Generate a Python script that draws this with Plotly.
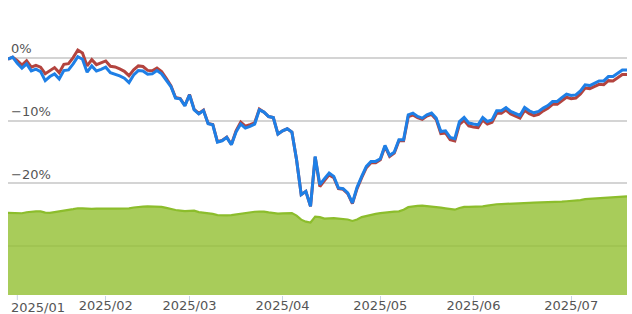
import plotly.graph_objects as go

# trading-day index (Dec 30 2024 .. mid Jul 2025)
blue = [-0.22, 0.10, -0.86, -1.66, -0.97, -2.09, -1.81, -2.20, -3.63, -2.99,
        -2.56, -3.36, -2.04, -1.93, -0.97, 0.19, -0.22, -2.29, -1.29, -2.09,
        -1.85, -1.50, -2.36, -2.56, -2.88, -3.25, -3.95, -2.72, -2.04, -2.09,
        -2.61, -2.56, -2.04, -2.56, -3.52, -4.58, -6.43, -6.54, -7.66, -5.91,
        -8.29, -8.93, -8.41, -10.52, -10.68, -13.44, -13.23, -12.70, -13.87, -11.84,
        -10.57, -11.21, -10.95, -10.57, -8.29, -8.66, -9.36, -9.52, -12.16, -11.64,
        -11.32, -11.84, -16.25, -21.83, -21.30, -23.69, -15.73, -20.23, -19.28, -18.37,
        -18.91, -20.76, -20.87, -21.56, -23.15, -20.66, -18.91, -17.32, -16.52, -16.52,
        -16.10, -13.98, -15.57, -15.03, -13.07, -13.07, -9.09, -8.82, -9.36, -9.62,
        -9.09, -8.82, -9.62, -11.75, -11.64, -12.70, -12.91, -10.16, -9.52, -10.41,
        -10.57, -10.68, -9.52, -10.16, -9.89, -8.45, -8.45, -7.93, -8.56, -8.88,
        -9.20, -7.93, -8.45, -8.77, -8.56, -8.02, -7.61, -6.97, -6.97, -6.34,
        -5.79, -6.02, -5.91, -5.27, -4.31, -4.43, -4.04, -3.68, -3.68, -2.99,
        -2.99, -2.45, -1.93, -1.93]

red = [-0.22, 0.10, -0.46, -1.16, -0.47, -1.49, -1.21, -1.50, -2.53, -1.99,
       -1.56, -2.36, -1.04, -0.93, 0.03, 1.24, 0.78, -1.29, -0.29, -1.09,
       -0.85, -0.50, -1.36, -1.46, -1.78, -2.15, -2.85, -1.92, -1.29, -1.39,
       -2.01, -2.06, -1.64, -2.21, -3.27, -4.43, -6.33, -6.49, -7.61, -5.86,
       -8.24, -8.88, -8.36, -10.47, -10.63, -13.39, -13.18, -12.65, -13.82, -11.64,
       -10.27, -10.91, -10.65, -10.37, -8.19, -8.66, -9.36, -9.52, -12.16, -11.64,
       -11.32, -11.84, -16.25, -21.83, -21.30, -23.69, -15.83, -20.53, -19.58, -18.67,
       -19.11, -20.86, -20.97, -21.66, -23.25, -20.86, -19.11, -17.52, -16.72, -16.72,
       -16.25, -14.13, -15.72, -15.18, -13.22, -13.22, -9.39, -9.12, -9.56, -9.82,
       -9.29, -9.02, -9.82, -12.10, -11.99, -13.05, -13.26, -10.61, -9.97, -10.86,
       -11.02, -11.13, -9.92, -10.56, -10.29, -8.85, -8.85, -8.33, -8.96, -9.28,
       -9.60, -8.38, -8.90, -9.22, -9.01, -8.47, -8.06, -7.42, -7.42, -6.84,
       -6.29, -6.52, -6.41, -5.77, -4.81, -4.93, -4.54, -4.23, -4.28, -3.64,
       -3.69, -3.20, -2.68, -2.68]

green = [13.09, 13.05, 12.97, 13.04, 13.20, 13.29, 13.33, 13.34, 13.13, 13.10,
         13.25, 13.36, 13.47, 13.58, 13.69, 13.83, 13.83, 13.77, 13.74, 13.79,
         13.82, 13.80, 13.79, 13.77, 13.77, 13.77, 13.83, 13.96, 14.06, 14.09,
         14.12, 14.12, 14.09, 14.06, 13.90, 13.71, 13.56, 13.47, 13.37, 13.42,
         13.45, 13.23, 13.13, 13.10, 12.94, 12.75, 12.67, 12.70, 12.75, 12.85,
         13.02, 13.13, 13.21, 13.28, 13.29, 13.29, 13.17, 13.05, 12.97, 13.01,
         13.04, 13.07, 12.66, 12.02, 11.70, 11.57, 12.50, 12.42, 12.18, 12.24,
         12.26, 12.18, 12.12, 12.04, 11.81, 12.05, 12.43, 12.62, 12.82, 12.94,
         13.05, 13.17, 13.26, 13.29, 13.34, 13.61, 14.01, 14.17, 14.22, 14.25,
         14.20, 14.14, 14.04, 13.93, 13.82, 13.71, 13.61, 13.88, 14.04, 14.04,
         14.04, 14.09, 14.15, 14.25, 14.38, 14.47, 14.50, 14.55, 14.58, 14.61,
         14.65, 14.68, 14.69, 14.73, 14.74, 14.76, 14.79, 14.82, 14.87, 14.90,
         14.95, 15.00, 15.06, 15.14, 15.30, 15.35, 15.39, 15.44, 15.49, 15.54,
         15.60, 15.65, 15.70, 15.73]

days = list(range(len(blue)))
month_ticks = [2, 21, 39, 59, 80, 100, 121]
month_labels = ["2025/01", "2025/02", "2025/03", "2025/04", "2025/05", "2025/06", "2025/07"]
y_ticks = [0, -10, -20, -30]
y_labels = ["0%", "−10%", "−20%", ""]

FONT = "DejaVu Sans"

fig = go.Figure()
fig.add_trace(go.Scatter(x=days, y=green, yaxis="y", mode="lines",
                         line=dict(color="#8cbd2c", width=2.2),
                         fill="tozeroy", fillcolor="rgba(146,191,49,0.8)",
                         hoverinfo="skip", showlegend=False))
fig.add_trace(go.Scatter(x=days, y=red, yaxis="y2", mode="lines",
                         line=dict(color="#b3443f", width=3),
                         showlegend=False))
fig.add_trace(go.Scatter(x=days, y=blue, yaxis="y2", mode="lines",
                         line=dict(color="#1e7fe6", width=3),
                         showlegend=False))

fig.update_layout(
    width=632, height=314,
    margin=dict(l=8, r=5, t=0, b=18.5),
    paper_bgcolor="white", plot_bgcolor="white",
    font=dict(family=FONT, size=13, color="#555555"),
    xaxis=dict(range=[0, len(blue) - 1], tickvals=month_ticks[1:], ticktext=month_labels[1:],
               ticks="outside", ticklen=5, tickcolor="#c8d4e4", tickwidth=1,
               ticklabelstandoff=-7,
               showgrid=False, zeroline=False, showline=False,
               tickfont=dict(family=FONT, size=13, color="#555555"),
               automargin=False),
    yaxis=dict(range=[0, 47.05], visible=False, showgrid=False, zeroline=False),
    yaxis2=dict(range=[-37.83, 9.22], overlaying="y", side="left",
                tickvals=y_ticks, ticktext=y_labels,
                ticklabelposition="inside top", showgrid=True,
                gridcolor="#d4d4d4", gridwidth=2, zeroline=False, showline=False,
                tickfont=dict(family=FONT, size=13, color="#555555"),
                automargin=False),
)
# first month's tick (label pinned to plot's left edge, as in the source)
fig.add_shape(type="line", xref="x", yref="paper", x0=month_ticks[0], x1=month_ticks[0],
              y0=0, y1=-5 / 295.5, line=dict(color="#c8d4e4", width=1))
fig.add_annotation(text=month_labels[0], xref="paper", yref="paper", x=0, y=0,
                   xanchor="left", yanchor="top", xshift=1, yshift=-3, showarrow=False,
                   font=dict(family=FONT, size=13, color="#555555"))

fig.write_html("out.html")
